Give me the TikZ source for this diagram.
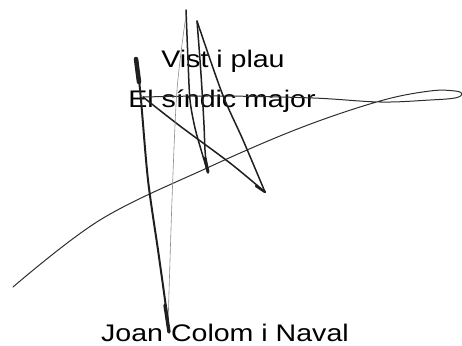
\documentclass[tikz,border=0pt]{standalone}
\usepackage{fontspec}
\setmainfont{Liberation Sans}
\tikzset{
  stamptext/.style={anchor=base,inner sep=0pt,xscale=1.19,font=\fontsize{24}{28}\selectfont},
  ink/.style={line width=1.5pt,color=black!88},
  fineink/.style={line width=1pt,color=black!82},
}
\begin{document}
\begin{tikzpicture}[x=1pt,y=-1pt,line join=round,line cap=round]
	\useasboundingbox (0,0) rectangle (462,345);
	\node[stamptext] (vist) at (223,67) {Vist i plau};
	\node[stamptext] (sindic) at (222,107) {El síndic major};
	\node[stamptext] (nom) at (225,341.5) {Joan Colom i Naval};
	\draw[fineink] plot[smooth,tension=0.6] coordinates {(13,287) (100,220) (207,168) (300,128) (380,101) (430,91) (455,91) (462,94) (455,98) (430,100) (380,102) (313,98) (220,96) (143,97)};
	\draw[ink] plot[smooth] coordinates {(143,97) (180,126) (230,163) (265,192)};
	\draw[ink] plot[smooth] coordinates {(265,192) (243,140) (222,93) (197,21)};
	\draw[ink,line width=2.4pt] (256,186)--(265,192);
	\draw[ink] plot[smooth] coordinates {(186,10) (188,60) (190,100) (195,128) (202,153) (208,173)};
	\draw[ink] plot[smooth] coordinates {(197,21) (200,60) (202,90) (204,125) (205,150) (207,170)};
	\draw[ink,line width=3pt] (205,158)--(208,172);
	\draw[black!45,line width=0.6pt] plot[smooth] coordinates {(168,326) (172,200) (177,90) (186,15)};
	\draw[ink,line width=2pt] plot[smooth] coordinates {(137,60) (141,100) (148,180) (158,250) (165,300) (169,332)};
	\draw[ink,line width=4.5pt] (136,59)--(139,82);
	\draw[ink,line width=3.4pt] (165,305)--(169,332);
\end{tikzpicture}
\end{document}
